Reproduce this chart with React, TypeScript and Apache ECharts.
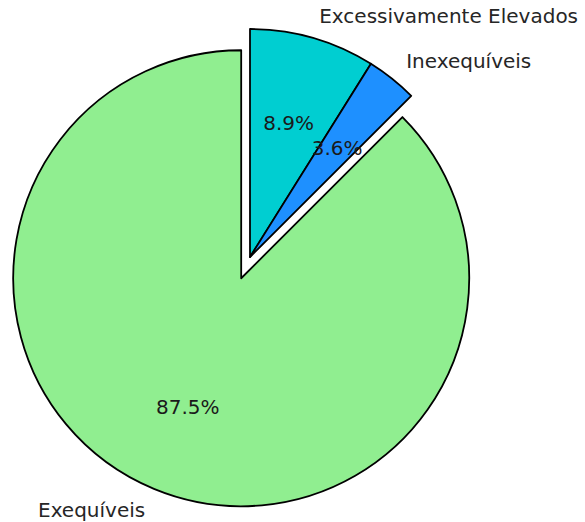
import React, { useEffect, useRef } from "react";
import * as echarts from "echarts";

const categories = ["Excessivamente Elevados", "Inexequíveis", "Exequíveis"];
const values = [8.9, 3.6, 87.5];
const colors = ["#00CED1", "#1E90FF", "#90EE90"];
const exploded = [false, false, true];

const CX = 250;
const CY = 257;
const R = 228;
const OFFSET = 23;
const FONT = "DejaVu Sans";

export default function App() {
  const ref = useRef<HTMLDivElement>(null);
  useEffect(() => {
    if (!ref.current) return;
    const chart = echarts.init(ref.current, null, { renderer: "svg" });
    const base = {
      type: "pie",
      center: [CX, CY],
      startAngle: 90,
      clockwise: true,
      selectedMode: "multiple",
      selectedOffset: OFFSET,
      avoidLabelOverlap: false,
      silent: true,
      emphasis: { disabled: true },
      animation: false,
    };
    chart.setOption({
      animation: false,
      series: [
        {
          ...base,
          radius: [0, R],
          label: { show: false },
          labelLine: { show: false },
          data: categories.map((name, i) => ({
            name,
            value: values[i],
            selected: exploded[i],
            itemStyle: { color: colors[i], borderColor: "#000", borderWidth: 1.8 },
          })),
        },
        {
          ...base,
          radius: [0, R * 1.2],
          z: 3,
          label: {
            show: true,
            position: "inside",
            fontFamily: FONT,
            fontSize: 20,
            color: "#1a1a1a",
            formatter: (p: any) => p.value.toFixed(1) + "%",
          },
          labelLine: { show: false },
          data: categories.map((name, i) => ({
            name,
            value: values[i],
            selected: exploded[i],
            itemStyle: { color: "rgba(0,0,0,0)", borderWidth: 0 },
          })),
        },
        {
          ...base,
          radius: [0, R * 1.1],
          z: 3,
          label: {
            show: true,
            position: "outside",
            fontFamily: FONT,
            fontSize: 20,
            color: "#262626",
            distanceToLabelLine: 0,
            formatter: "{b}",
          },
          labelLine: { show: false, length: 0, length2: 0 },
          data: categories.map((name, i) => ({
            name,
            value: values[i],
            selected: exploded[i],
            itemStyle: { color: "rgba(0,0,0,0)", borderWidth: 0 },
          })),
        },
      ],
    });
    return () => chart.dispose();
  }, []);
  return (
    <div
      ref={ref}
      style={{ position: "absolute", left: 0, top: 0, width: 585, height: 522, background: "#fff" }}
    />
  );
}
